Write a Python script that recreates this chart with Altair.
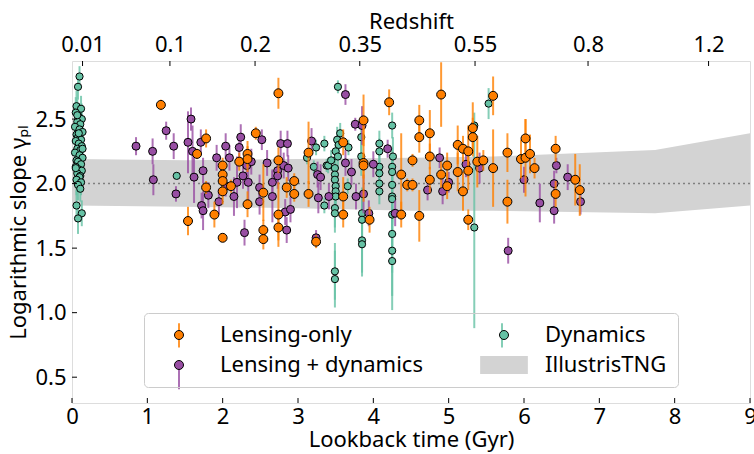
import altair as alt
import pandas as pd

FONT = "Noto Sans"
ORANGE = "#ff7f00"
PURPLE = "#984ea3"
GREEN = "#66c2a5"
BAND = "#d3d3d3"

# ---------------- data ----------------
# Lensing-only (lookback time [Gyr], slope, 1-sigma error)
lens_x = [1.18, 1.54, 1.66, 1.78, 1.78, 1.89, 2.00, 2.00, 2.00, 2.00, 2.00, 2.11, 2.22,
          2.33, 2.33, 2.33, 2.44, 2.54, 2.54, 2.54, 2.74, 2.74, 2.74, 2.74, 2.85, 2.95,
          2.95, 3.14, 3.14, 3.24, 3.60, 3.60, 3.60, 3.87, 3.87, 3.87, 3.95, 4.21, 4.37,
          4.37, 4.45, 4.52, 4.52, 4.61, 4.61, 4.61, 4.75, 4.75, 4.75, 4.90, 4.90, 4.98,
          4.98, 5.12, 5.12, 5.19, 5.19, 5.26, 5.26, 5.26, 5.32, 5.32, 5.38, 5.46, 5.59,
          5.59, 5.78, 5.78, 5.96, 6.02, 6.02, 6.08, 6.14, 6.42, 6.42, 6.68, 6.74]
lens_y = [2.61, 1.71, 2.23, 2.35, 1.97, 1.76, 2.14, 2.07, 2.02, 1.94, 1.58, 1.98, 2.17,
          2.23, 2.19, 1.84, 2.39, 1.93, 1.64, 1.57, 2.70, 2.18, 1.76, 1.66, 1.97, 2.02,
          1.92, 2.24, 1.92, 1.55, 2.32, 1.90, 1.76, 2.49, 2.16, 2.14, 1.72, 2.63, 2.07,
          1.76, 1.99, 1.99, 2.18, 2.49, 2.36, 1.75, 2.39, 2.21, 2.03, 2.69, 2.07, 2.14,
          1.98, 2.30, 2.09, 2.27, 1.94, 2.25, 2.10, 1.72, 2.43, 2.36, 2.17, 2.18, 2.68,
          2.12, 2.24, 1.86, 2.19, 2.35, 2.20, 2.23, 2.12, 2.27, 1.92, 2.03, 1.95]
lens_err = [0.04, 0.11, 0.04, 0.07, 0.05, 0.10, 0.06, 0.06, 0.06, 0.10, 0.03, 0.05, 0.07,
            0.10, 0.10, 0.10, 0.05, 0.22, 0.08, 0.08, 0.12, 0.10, 0.25, 0.10, 0.08, 0.06,
            0.06, 0.24, 0.10, 0.05, 0.10, 0.15, 0.10, 0.20, 0.30, 0.10, 0.10, 0.10, 0.32,
            0.10, 0.05, 0.05, 0.05, 0.12, 0.12, 0.20, 0.18, 0.10, 0.10, 0.25, 0.10, 0.10,
            0.10, 0.15, 0.15, 0.10, 0.15, 0.20, 0.15, 0.08, 0.20, 0.15, 0.20, 0.08, 0.15,
            0.30, 0.15, 0.17, 0.15, 0.15, 0.30, 0.15, 0.08, 0.10, 0.10, 0.20, 0.20]

# Lensing + dynamics
ld_x = [0.85, 1.07, 1.08, 1.25, 1.35, 1.38, 1.54, 1.58, 1.60, 1.62, 1.71, 1.72, 1.74,
        1.74, 1.81, 1.92, 1.95, 2.04, 2.04, 2.09, 2.15, 2.19, 2.22, 2.24, 2.27, 2.29,
        2.32, 2.34, 2.38, 2.49, 2.49, 2.52, 2.59, 2.66, 2.66, 2.73, 2.73, 2.77, 2.81,
        2.83, 2.85, 2.86, 2.87, 2.90, 3.18, 3.26, 3.27, 3.24, 3.30, 3.41, 3.63, 3.63,
        3.71, 3.76, 3.77, 3.85, 3.87, 3.94, 4.00, 4.19, 4.29, 4.72, 4.88, 4.92, 5.00,
        5.23, 5.41, 5.79, 6.00, 6.21, 6.43, 6.40, 6.40, 6.58, 6.75]
ld_y = [2.29, 2.25, 2.03, 2.41, 2.29, 1.92, 2.32, 2.50, 2.25, 2.05, 2.32, 1.83, 2.10,
        1.79, 1.91, 2.20, 1.86, 2.29, 1.98, 2.20, 1.90, 2.01, 2.28, 2.36, 2.06, 1.62,
        2.14, 2.01, 2.17, 1.97, 1.86, 2.34, 2.16, 2.01, 1.90, 2.10, 2.06, 2.31, 2.14,
        1.78, 1.64, 2.31, 2.12, 1.80, 2.33, 2.07, 1.89, 1.58, 2.05, 1.90, 2.69, 2.16,
        2.09, 2.46, 1.90, 2.45, 1.92, 1.77, 2.15, 2.27, 1.77, 1.95, 2.20, 1.94, 2.01,
        2.15, 2.12, 1.48, 2.03, 1.85, 2.14, 2.00, 1.79, 2.05, 1.86]
ld_err = [0.07, 0.10, 0.12, 0.07, 0.10, 0.06, 0.24, 0.09, 0.20, 0.20, 0.10, 0.10, 0.10,
          0.15, 0.10, 0.10, 0.10, 0.10, 0.08, 0.10, 0.15, 0.20, 0.10, 0.10, 0.10, 0.10,
          0.12, 0.20, 0.10, 0.10, 0.10, 0.08, 0.10, 0.10, 0.20, 0.10, 0.10, 0.10, 0.10,
          0.10, 0.10, 0.10, 0.10, 0.10, 0.10, 0.10, 0.12, 0.06, 0.10, 0.10, 0.08, 0.10,
          0.10, 0.05, 0.10, 0.15, 0.15, 0.10, 0.10, 0.07, 0.10, 0.08, 0.08, 0.10, 0.08,
          0.10, 0.12, 0.10, 0.10, 0.15, 0.06, 0.10, 0.10, 0.10, 0.10]

# Dynamics
dyn_x = [0.10, 0.08, 0.06, 0.12, 0.05, 0.09, 0.13, 0.07, 0.11, 0.04, 0.10, 0.14, 0.06,
         0.08, 0.12, 0.05, 0.09, 0.13, 0.07, 0.11, 0.04, 0.10, 0.14, 0.06, 0.08, 0.12,
         0.05, 0.09, 0.13, 0.07, 0.11, 0.10, 0.06, 0.12, 0.08, 0.05, 0.14, 0.09, 0.07,
         0.11, 0.06, 0.13, 0.08,
         1.39, 3.12, 3.21, 3.24, 3.35, 3.38, 3.35, 3.40, 3.44, 3.49, 3.49, 3.49, 3.50,
         3.50, 3.50, 3.49, 3.49, 3.49, 3.49, 3.50, 3.52, 3.53, 3.53, 3.56, 3.54, 3.66,
         3.67, 3.84, 3.84, 3.85, 3.85, 3.85, 3.85, 4.08, 4.08, 4.08, 4.08, 4.08, 4.08,
         4.25, 4.26, 4.25, 4.25, 4.25, 4.25, 4.25, 4.25, 4.25, 4.25, 4.25, 5.34, 5.34,
         5.53]
dyn_y = [2.83, 2.75, 2.60, 2.58, 2.55, 2.52, 2.50, 2.48, 2.46, 2.44, 2.42, 2.40, 2.38,
         2.36, 2.34, 2.33, 2.31, 2.29, 2.27, 2.26, 2.24, 2.22, 2.20, 2.18, 2.17, 2.15,
         2.13, 2.11, 2.10, 2.08, 2.06, 2.05, 2.03, 2.01, 1.99, 2.12, 2.27, 2.39, 2.53,
         1.96, 1.83, 1.77, 1.73,
         2.06, 2.20, 2.13, 2.28, 2.31, 2.14, 1.83, 2.14, 2.18, 2.12, 2.07, 2.03, 1.98,
         1.94, 1.90, 1.81, 1.77, 1.32, 1.26, 2.25, 2.34, 2.21, 2.75, 2.39, 2.30, 1.98,
         2.28, 2.36, 2.21, 1.77, 1.72, 1.56, 1.53, 2.31, 2.25, 2.13, 2.08, 2.00, 1.94,
         2.45, 2.21, 2.13, 2.09, 1.99, 1.90, 1.88, 1.76, 1.61, 1.48, 1.40, 2.45, 1.66,
         2.62]
dyn_err = [0.08, 0.10, 0.12, 0.10, 0.12, 0.10, 0.12, 0.10, 0.12, 0.10, 0.12, 0.10, 0.12,
           0.10, 0.12, 0.10, 0.12, 0.10, 0.12, 0.10, 0.12, 0.10, 0.12, 0.10, 0.12, 0.10,
           0.12, 0.10, 0.12, 0.10, 0.12, 0.10, 0.12, 0.10, 0.12, 0.10, 0.12, 0.10, 0.12,
           0.10, 0.12, 0.10, 0.12,
           0.02, 0.05, 0.05, 0.06, 0.06, 0.05, 0.06, 0.06, 0.08, 0.10, 0.10, 0.12, 0.10,
           0.10, 0.10, 0.15, 0.15, 0.22, 0.22, 0.10, 0.10, 0.10, 0.05, 0.08, 0.08, 0.06,
           0.06, 0.15, 0.15, 0.20, 0.20, 0.25, 0.25, 0.10, 0.10, 0.10, 0.10, 0.10, 0.10,
           0.10, 0.15, 0.15, 0.15, 0.20, 0.20, 0.20, 0.25, 0.30, 0.35, 0.38, 0.10, 0.78,
           0.12]

# IllustrisTNG band
tng_x = [0.0, 1.5, 3.0, 4.5, 5.6, 7.74, 9.0]
tng_lo = [1.83, 1.82, 1.81, 1.79, 1.79, 1.77, 1.83]
tng_hi = [2.19, 2.18, 2.19, 2.20, 2.21, 2.26, 2.39]

# axis ticks
bottom_ticks = [0, 1, 2, 3, 4, 5, 6, 7, 8, 9]
left_ticks = [0.5, 1.0, 1.5, 2.0, 2.5]
z_labels = ["0.01", "0.1", "0.2", "0.35", "0.55", "0.8", "1.2"]
z_lookback = [0.14, 1.30, 2.43, 3.82, 5.35, 6.85, 8.45]

# legend order (filled column by column)
SERIES = ["Lensing-only", "Lensing + dynamics", "Dynamics", "IllustrisTNG"]
ZW = "\u200b"  # zero-width marker so the error-bar legend stays a separate legend
SERIES_BAR = [s + ZW for s in SERIES]

# ---------------- frames ----------------
def frame(name, xs, ys, es):
    return pd.DataFrame({
        "series": name, "kind": name + ZW, "t": xs, "g": ys,
        "lo": [y - e for y, e in zip(ys, es)],
        "hi": [y + e for y, e in zip(ys, es)],
    })

df_lens = frame("Lensing-only", lens_x, lens_y, lens_err)
df_ld = frame("Lensing + dynamics", ld_x, ld_y, ld_err)
df_dyn = frame("Dynamics", dyn_x, dyn_y, dyn_err)
df_tng = pd.DataFrame({"t": tng_x, "lo": tng_lo, "hi": tng_hi})

FS = 22
xscale = alt.Scale(domain=[0, 9], nice=False, zero=False)
yscale = alt.Scale(domain=[0.3, 2.95], nice=False, zero=False)

y_axis = alt.Axis(orient="left", values=left_ticks, format=".1f", grid=False,
                  domain=False, ticks=False, tickSize=0, labelFlush=False,
                  labelFont=FONT, labelFontSize=FS, labelColor="black",
                  labelPadding=6, title="Logarithmic slope γₚₗ", titleFont=FONT,
                  titleFontSize=FS, titleFontWeight="normal", titleColor="black",
                  titlePadding=4)

leg_common = dict(orient="none", legendX=72, legendY=252, columns=2, title=None,
                  labelFont=FONT, labelFontSize=FS, labelColor="black", padding=11,
                  rowPadding=8, columnPadding=55, labelOffset=30, symbolOffset=13,
                  symbolSize=81, labelLimit=400)

pt_legend = alt.Legend(strokeColor="#cccccc", cornerRadius=4, symbolStrokeWidth=1,
                       **leg_common)
bar_legend = alt.Legend(symbolType="M0,-2.7L0,2.7", symbolStrokeWidth=2,
                        labelOpacity=0, **leg_common)

fill_scale = alt.Scale(domain=SERIES, range=[ORANGE, PURPLE, GREEN, BAND])
stroke_scale = alt.Scale(domain=SERIES, range=["black", "black", "black", "transparent"])
shape_scale = alt.Scale(domain=SERIES,
                        range=["circle", "circle", "circle", "M-5.3,-2L5.3,-2L5.3,2L-5.3,2Z"])
bar_scale = alt.Scale(domain=SERIES_BAR, range=[ORANGE, PURPLE, GREEN, "transparent"])

band = alt.Chart(df_tng).mark_area(color=BAND, opacity=1).encode(
    x=alt.X("t:Q", scale=xscale,
            axis=alt.Axis(orient="bottom", values=bottom_ticks, format="d", grid=False,
                          domain=False, ticks=False, tickSize=0, labelFlush=False,
                          labelFont=FONT, labelFontSize=FS, labelColor="black",
                          labelPadding=3, title="Lookback time (Gyr)", titleFont=FONT,
                          titleFontSize=FS, titleFontWeight="normal", titleColor="black",
                          titlePadding=2)),
    y=alt.Y("lo:Q", scale=yscale, axis=y_axis),
    y2="hi:Q",
)

dotted = alt.Chart(pd.DataFrame({"y": [2.0]})).mark_rule(
    color="#7f7f7f", strokeDash=[2, 3], strokeWidth=1.5).encode(
    y=alt.Y("y:Q", scale=yscale, axis=y_axis))


def series_layers(df, size):
    bars = alt.Chart(df).mark_rule(strokeWidth=2, opacity=0.8).encode(
        x=alt.X("t:Q", scale=xscale, axis=None),
        y=alt.Y("lo:Q", scale=yscale, axis=y_axis),
        y2="hi:Q",
        color=alt.Color("kind:N", scale=bar_scale, legend=bar_legend),
    )
    pts = alt.Chart(df).mark_point(filled=True, opacity=1, strokeWidth=1, size=size).encode(
        x=alt.X("t:Q", scale=xscale, axis=None),
        y=alt.Y("g:Q", scale=yscale, axis=y_axis),
        fill=alt.Fill("series:N", scale=fill_scale, legend=pt_legend),
        stroke=alt.Stroke("series:N", scale=stroke_scale, legend=pt_legend),
        shape=alt.Shape("series:N", scale=shape_scale, legend=pt_legend),
    )
    return [bars, pts]


H = 342
W = 678
tick_b = alt.Chart(pd.DataFrame({"t": bottom_ticks})).mark_rule(color="black", strokeWidth=1).encode(
    x=alt.X("t:Q", scale=xscale, axis=None), y=alt.value(H), y2=alt.value(H - 5))
tick_l = alt.Chart(pd.DataFrame({"v": left_ticks})).mark_rule(color="black", strokeWidth=1).encode(
    y=alt.Y("v:Q", scale=yscale, axis=y_axis), x=alt.value(0), x2=alt.value(5))

label_expr = ("datum.value < 0.7 ? '0.01' : datum.value < 1.9 ? '0.1' : datum.value < 3.1 ? '0.2'"
              " : datum.value < 4.6 ? '0.35' : datum.value < 6.1 ? '0.55' : datum.value < 7.6 ? '0.8' : '1.2'")
tick_t = alt.Chart(pd.DataFrame({"t": z_lookback, "z": z_labels})).mark_rule(
    color="black", strokeWidth=1).encode(
    x=alt.X("t:Q", scale=xscale,
            axis=alt.Axis(orient="top", values=z_lookback, labelExpr=label_expr, grid=False,
                          domain=False, ticks=False, tickSize=0, labelFlush=False,
                          labelFont=FONT, labelFontSize=FS, labelColor="black",
                          labelPadding=5, title="Redshift", titleFont=FONT,
                          titleFontSize=FS, titleFontWeight="normal", titleColor="black",
                          titleBaseline="alphabetic", titleY=-33)),
    y=alt.value(0), y2=alt.value(5))

layers = [band, dotted]
layers += series_layers(df_dyn, 52)
layers += series_layers(df_ld, 64)
layers += series_layers(df_lens, 80)
layers += [tick_b, tick_l, tick_t]

chart = alt.layer(*layers).resolve_axis(x="independent").properties(
    width=W, height=H,
    autosize=alt.AutoSizeParams(type="none"),
    padding={"left": 72, "top": 61, "right": 4, "bottom": 51},
).configure_view(stroke="black", strokeWidth=1.5).configure(font=FONT, background="white")

chart.save("out.html", embed_options={"renderer": "svg", "actions": False})
